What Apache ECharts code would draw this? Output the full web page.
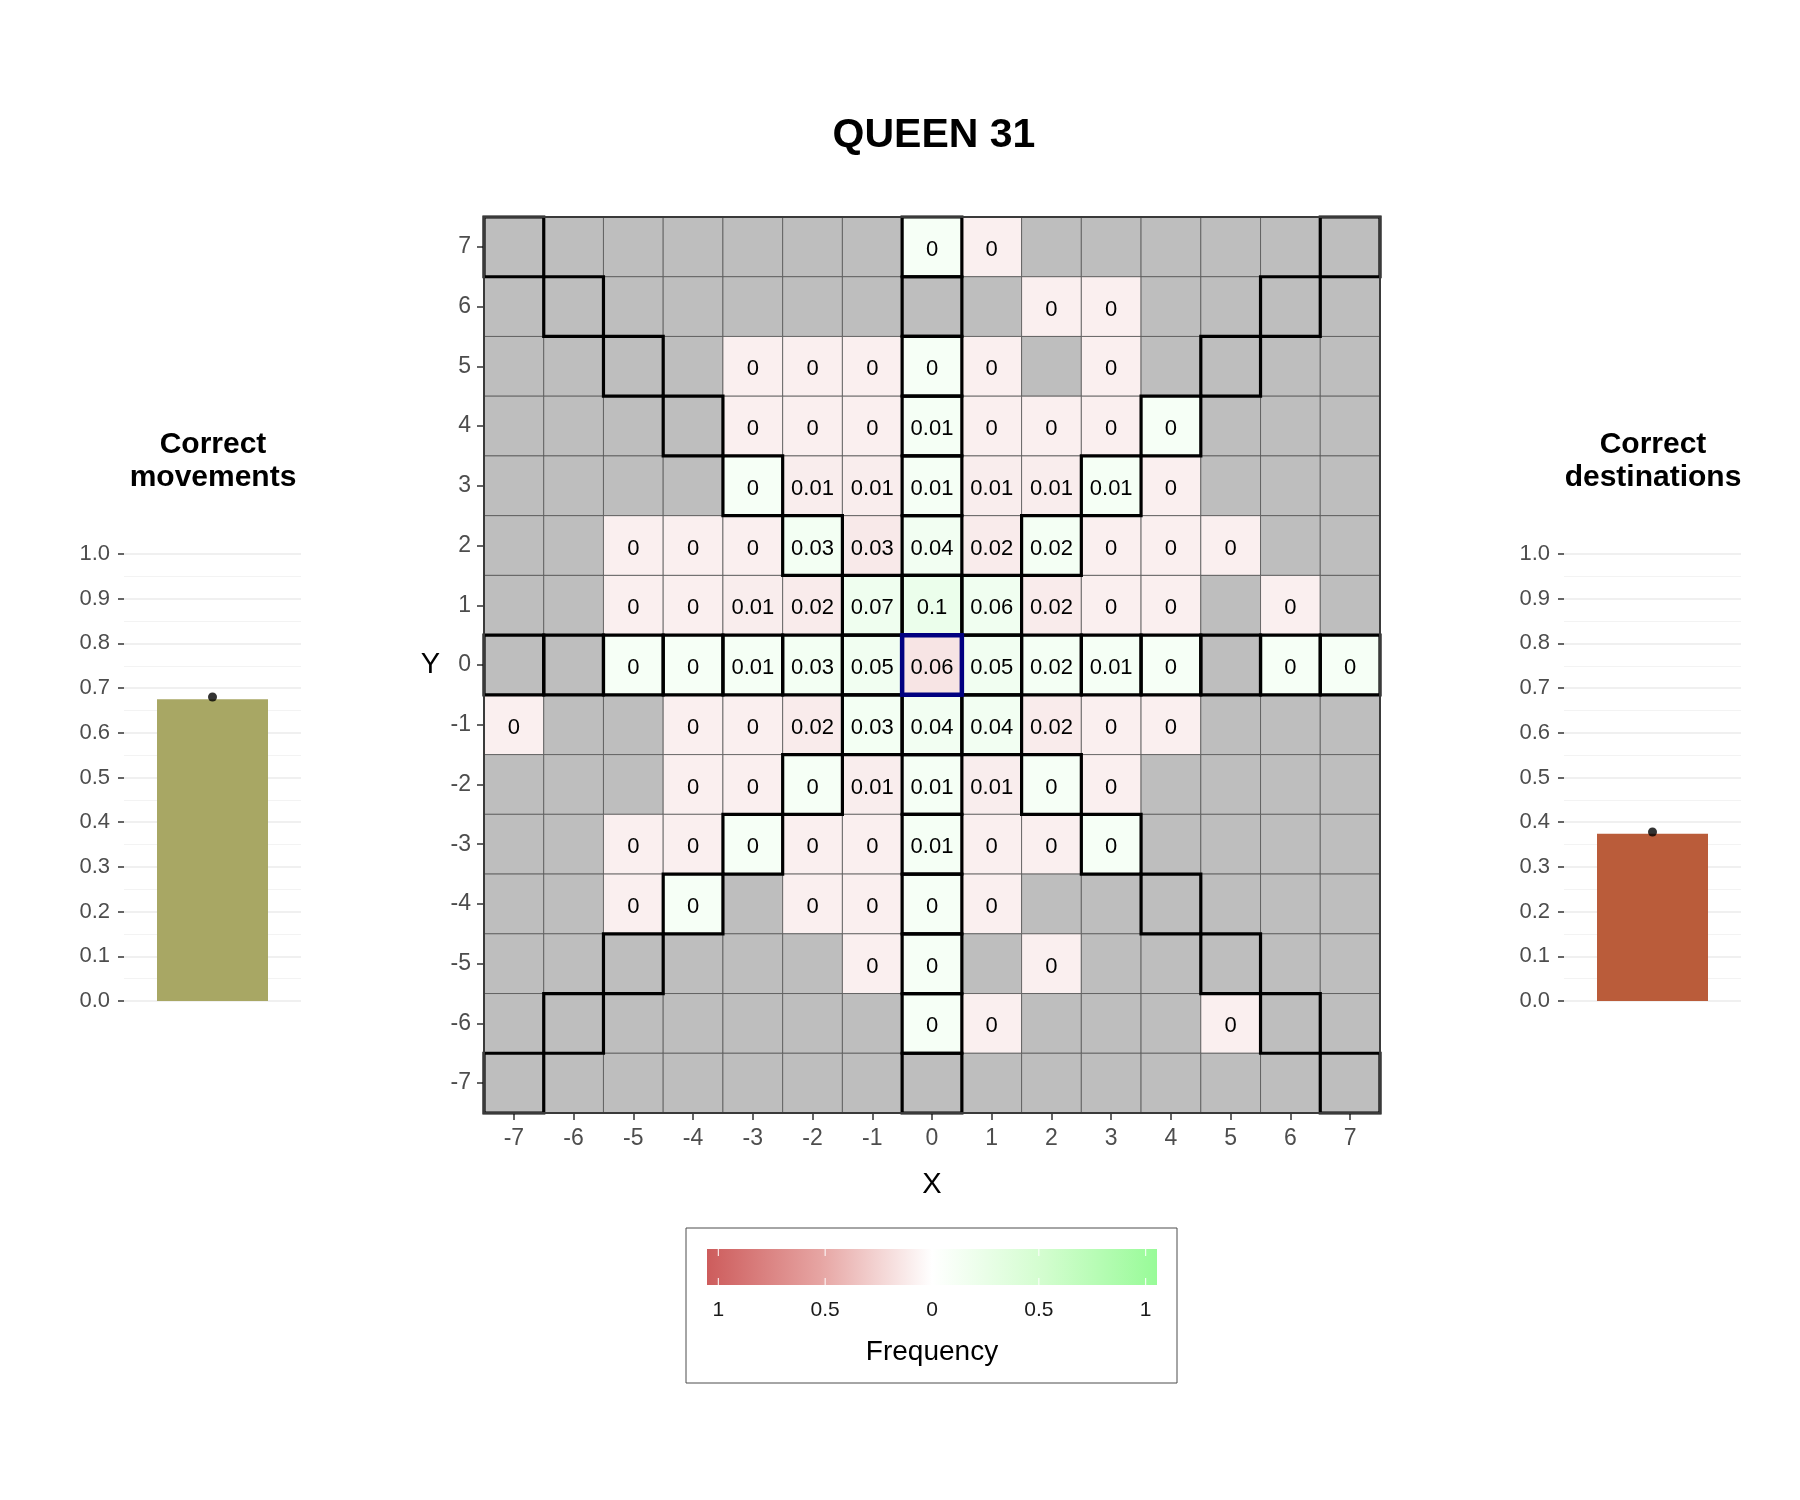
<!DOCTYPE html>
<html>
<head>
    <meta charset="utf-8">
    <title>QUEEN 31</title>
    <script src="https://cdn.jsdelivr.net/npm/echarts@6/dist/echarts.min.js"></script>
    <style>
        html, body { margin: 0; padding: 0; background: #ffffff; }
        #main { width: 1800px; height: 1500px; }
    </style>
</head>
<body>
<div id="main"></div>
<script>
    // board axes, x from -7 to 7 and y from -7 to 7
    var xLabels = ['-7', '-6', '-5', '-4', '-3', '-2', '-1', '0', '1', '2', '3', '4', '5', '6', '7'];
    var yLabels = ['-7', '-6', '-5', '-4', '-3', '-2', '-1', '0', '1', '2', '3', '4', '5', '6', '7'];

    // frequency of each destination, rows from y=7 (top) down to y=-7, null = never chosen
    var n = null;
    var freqRows = [
        [n, n, n, n, n, n, n, 0, 0, n, n, n, n, n, n],
        [n, n, n, n, n, n, n, n, n, 0, 0, n, n, n, n],
        [n, n, n, n, 0, 0, 0, 0, 0, n, 0, n, n, n, n],
        [n, n, n, n, 0, 0, 0, 0.01, 0, 0, 0, 0, n, n, n],
        [n, n, n, n, 0, 0.01, 0.01, 0.01, 0.01, 0.01, 0.01, 0, n, n, n],
        [n, n, 0, 0, 0, 0.03, 0.03, 0.04, 0.02, 0.02, 0, 0, 0, n, n],
        [n, n, 0, 0, 0.01, 0.02, 0.07, 0.1, 0.06, 0.02, 0, 0, n, 0, n],
        [n, n, 0, 0, 0.01, 0.03, 0.05, 0.06, 0.05, 0.02, 0.01, 0, n, 0, 0],
        [0, n, n, 0, 0, 0.02, 0.03, 0.04, 0.04, 0.02, 0, 0, n, n, n],
        [n, n, n, 0, 0, 0, 0.01, 0.01, 0.01, 0, 0, n, n, n, n],
        [n, n, 0, 0, 0, 0, 0, 0.01, 0, 0, 0, n, n, n, n],
        [n, n, 0, 0, n, 0, 0, 0, 0, n, n, n, n, n, n],
        [n, n, n, n, n, n, 0, 0, n, 0, n, n, n, n, n],
        [n, n, n, n, n, n, n, 0, 0, n, n, n, 0, n, n],
        [n, n, n, n, n, n, n, n, n, n, n, n, n, n, n]
    ];

    // side panels
    var movementBar = [0.675];
    var movementPoint = [0.68];
    var destinationBar = [0.374];
    var destinationPoint = [0.378];

    // colour bar ticks
    var legendValues = [-1, -0.5, 0, 0.5, 1];
    var legendTexts = ['1', '0.5', '0', '0.5', '1'];

    var FONT = '"Liberation Sans", Arial, sans-serif';
    var RED = [205, 92, 92];
    var GREEN = [152, 251, 152];

    function mix(c, t) {
        t = Math.max(0, Math.min(1, t));
        return 'rgb(' + c.map(function (k) { return Math.round(255 + (k - 255) * t); }).join(',') + ')';
    }

    function isQueenMove(x, y) {
        if (x === 0 && y === 0) return false;
        return x === 0 || y === 0 || Math.abs(x) === Math.abs(y);
    }

    var cellData = [];
    var outlineData = [];
    freqRows.forEach(function (row, r) {
        row.forEach(function (v, c) {
            var x = c - 7, y = 7 - r;
            cellData.push([c, 14 - r, v]);
            if (isQueenMove(x, y)) outlineData.push([c, 14 - r, 0]);
        });
    });
    outlineData.push([7, 7, 1]); // starting square

    function cellRect(api) {
        var p = api.coord([api.value(0), api.value(1)]);
        var s = api.size([1, 1]);
        return { x: p[0] - s[0] / 2, y: p[1] - s[1] / 2, width: s[0], height: s[1] };
    }

    var chart = echarts.init(document.getElementById('main'));

    var sideAxis = function (idx) {
        return {
            type: 'value', gridIndex: idx, min: 0, max: 1, interval: 0.1,
            axisLine: { show: false },
            axisTick: { show: true, length: 6, lineStyle: { color: '#333333', width: 1.5 } },
            axisLabel: {
                color: '#4d4d4d', fontSize: 22, fontFamily: FONT, margin: 14,
                formatter: function (v) { return v.toFixed(1); }
            },
            splitLine: { lineStyle: { color: '#ebebeb', width: 1.5 } },
            minorTick: { show: false, splitNumber: 2 },
            minorSplitLine: { show: true, lineStyle: { color: '#f3f3f3', width: 1 } }
        };
    };
    var sideCat = function (idx, name) {
        return {
            type: 'category', gridIndex: idx, data: [name],
            axisLine: { show: false }, axisTick: { show: false }, axisLabel: { show: false }
        };
    };

    var option = {
        backgroundColor: '#ffffff',
        animation: false,
        title: [
            { text: 'QUEEN 31', left: 929, top: 110, textAlign: 'center',
              textStyle: { fontSize: 41, fontWeight: 'bold', color: '#000', fontFamily: FONT } },
            { text: 'Correct\nmovements', left: 208, top: 423, textAlign: 'center',
              textStyle: { fontSize: 30, fontWeight: 'bold', color: '#000', lineHeight: 33, fontFamily: FONT } },
            { text: 'Correct\ndestinations', left: 1648, top: 423, textAlign: 'center',
              textStyle: { fontSize: 30, fontWeight: 'bold', color: '#000', lineHeight: 33, fontFamily: FONT } }
        ],
        grid: [
            { left: 484, top: 217, width: 896, height: 896, show: true, z: 10,
              backgroundColor: 'transparent', borderColor: '#3a3a3a', borderWidth: 2 },
            { left: 124, top: 554, width: 177, height: 447 },
            { left: 1564, top: 554, width: 177, height: 447 }
        ],
        xAxis: [
            {
                type: 'category', gridIndex: 0, data: xLabels, name: 'X',
                nameLocation: 'middle', nameGap: 57,
                nameTextStyle: { fontSize: 29, color: '#000', fontFamily: FONT },
                axisLine: { show: false },
                axisTick: { show: true, alignWithLabel: true, length: 7, lineStyle: { color: '#333333', width: 1.5 } },
                axisLabel: { color: '#4d4d4d', fontSize: 23, fontFamily: FONT, margin: 14 },
                splitLine: { show: false }
            },
            sideCat(1, 'Correct movements'),
            sideCat(2, 'Correct destinations')
        ],
        yAxis: [
            {
                type: 'category', gridIndex: 0, data: yLabels, name: 'Y',
                nameLocation: 'middle', nameRotate: 0, nameGap: 44,
                nameTextStyle: { fontSize: 29, color: '#000', fontFamily: FONT, padding: [4, 0, 0, 0] },
                axisLine: { show: false },
                axisTick: { show: true, alignWithLabel: true, length: 7, lineStyle: { color: '#333333', width: 1.5 } },
                axisLabel: { color: '#4d4d4d', fontSize: 23, fontFamily: FONT, margin: 13, padding: [9, 0, 0, 0] },
                splitLine: { show: false }
            },
            sideAxis(1),
            sideAxis(2)
        ],
        series: [
            {
                name: 'cells', type: 'custom', xAxisIndex: 0, yAxisIndex: 0,
                data: cellData,
                renderItem: function (params, api) {
                    var r = cellRect(api);
                    var item = cellData[params.dataIndex];
                    var v = item[2];
                    var x = item[0] - 7, y = item[1] - 7;
                    var fill = '#bebebe';
                    if (v !== null) fill = isQueenMove(x, y) ? mix(GREEN, 0.09 + v) : mix(RED, 0.1 + v * 1.1);
                    var children = [{
                        type: 'rect', shape: r,
                        style: { fill: fill, stroke: '#555555', lineWidth: 0.8 }
                    }];
                    if (v !== null) {
                        children.push({
                            type: 'text',
                            style: {
                                text: String(v), x: r.x + r.width / 2, y: r.y + r.height / 2 + 3,
                                align: 'center', verticalAlign: 'middle',
                                fontSize: 22, fontFamily: FONT, fill: '#000'
                            }
                        });
                    }
                    return { type: 'group', children: children };
                }
            },
            {
                name: 'queen moves', type: 'custom', xAxisIndex: 0, yAxisIndex: 0,
                data: outlineData, z: 5,
                renderItem: function (params, api) {
                    var start = api.value(2) === 1;
                    return {
                        type: 'rect', shape: cellRect(api), z2: start ? 10 : 1,
                        style: { fill: null, stroke: start ? '#000080' : '#000000', lineWidth: start ? 4.5 : 3.2 }
                    };
                }
            },
            { type: 'bar', xAxisIndex: 1, yAxisIndex: 1, data: movementBar, barWidth: 111,
              itemStyle: { color: '#a8a764' } },
            { type: 'scatter', xAxisIndex: 1, yAxisIndex: 1, data: movementPoint, symbolSize: 9, z: 5,
              itemStyle: { color: '#000' } },
            { type: 'bar', xAxisIndex: 2, yAxisIndex: 2, data: destinationBar, barWidth: 111,
              itemStyle: { color: '#ba5c3a' } },
            { type: 'scatter', xAxisIndex: 2, yAxisIndex: 2, data: destinationPoint, symbolSize: 9, z: 5,
              itemStyle: { color: '#000' } }
        ]
    };

    // colour bar legend
    var barLeft = 707, barTop = 1249, barW = 450, barH = 36;
    var v2x = function (v) { return 932 + v * 213.7; };
    var legendEls = [
        { type: 'rect', shape: { x: 686, y: 1228, width: 491, height: 155 },
          style: { fill: '#fff', stroke: '#4d4d4d', lineWidth: 1 } },
        { type: 'rect', shape: { x: barLeft, y: barTop, width: barW, height: barH },
          style: { fill: new echarts.graphic.LinearGradient(0, 0, 1, 0, [
              { offset: 0, color: '#cd5c5c' },
              { offset: 0.25, color: '#e6a4a2' },
              { offset: 0.5, color: '#ffffff' },
              { offset: 0.75, color: '#d2fdce' },
              { offset: 1, color: '#98fb98' }
          ]) } },
        { type: 'text', style: { text: 'Frequency', x: 932, y: 1352, align: 'center', verticalAlign: 'middle',
          fontSize: 28, fontFamily: FONT, fill: '#000' } }
    ];
    legendValues.forEach(function (v, i) {
        var x = v2x(v);
        legendEls.push({ type: 'line', shape: { x1: x, y1: barTop, x2: x, y2: barTop + 7 }, style: { stroke: '#fff', lineWidth: 1 } });
        legendEls.push({ type: 'line', shape: { x1: x, y1: barTop + barH - 7, x2: x, y2: barTop + barH }, style: { stroke: '#fff', lineWidth: 1 } });
        legendEls.push({ type: 'text', style: { text: legendTexts[i], x: x, y: 1310, align: 'center', verticalAlign: 'middle',
            fontSize: 21, fontFamily: FONT, fill: '#1a1a1a' } });
    });
    option.graphic = legendEls;

    chart.setOption(option);
</script>
</body>
</html>
